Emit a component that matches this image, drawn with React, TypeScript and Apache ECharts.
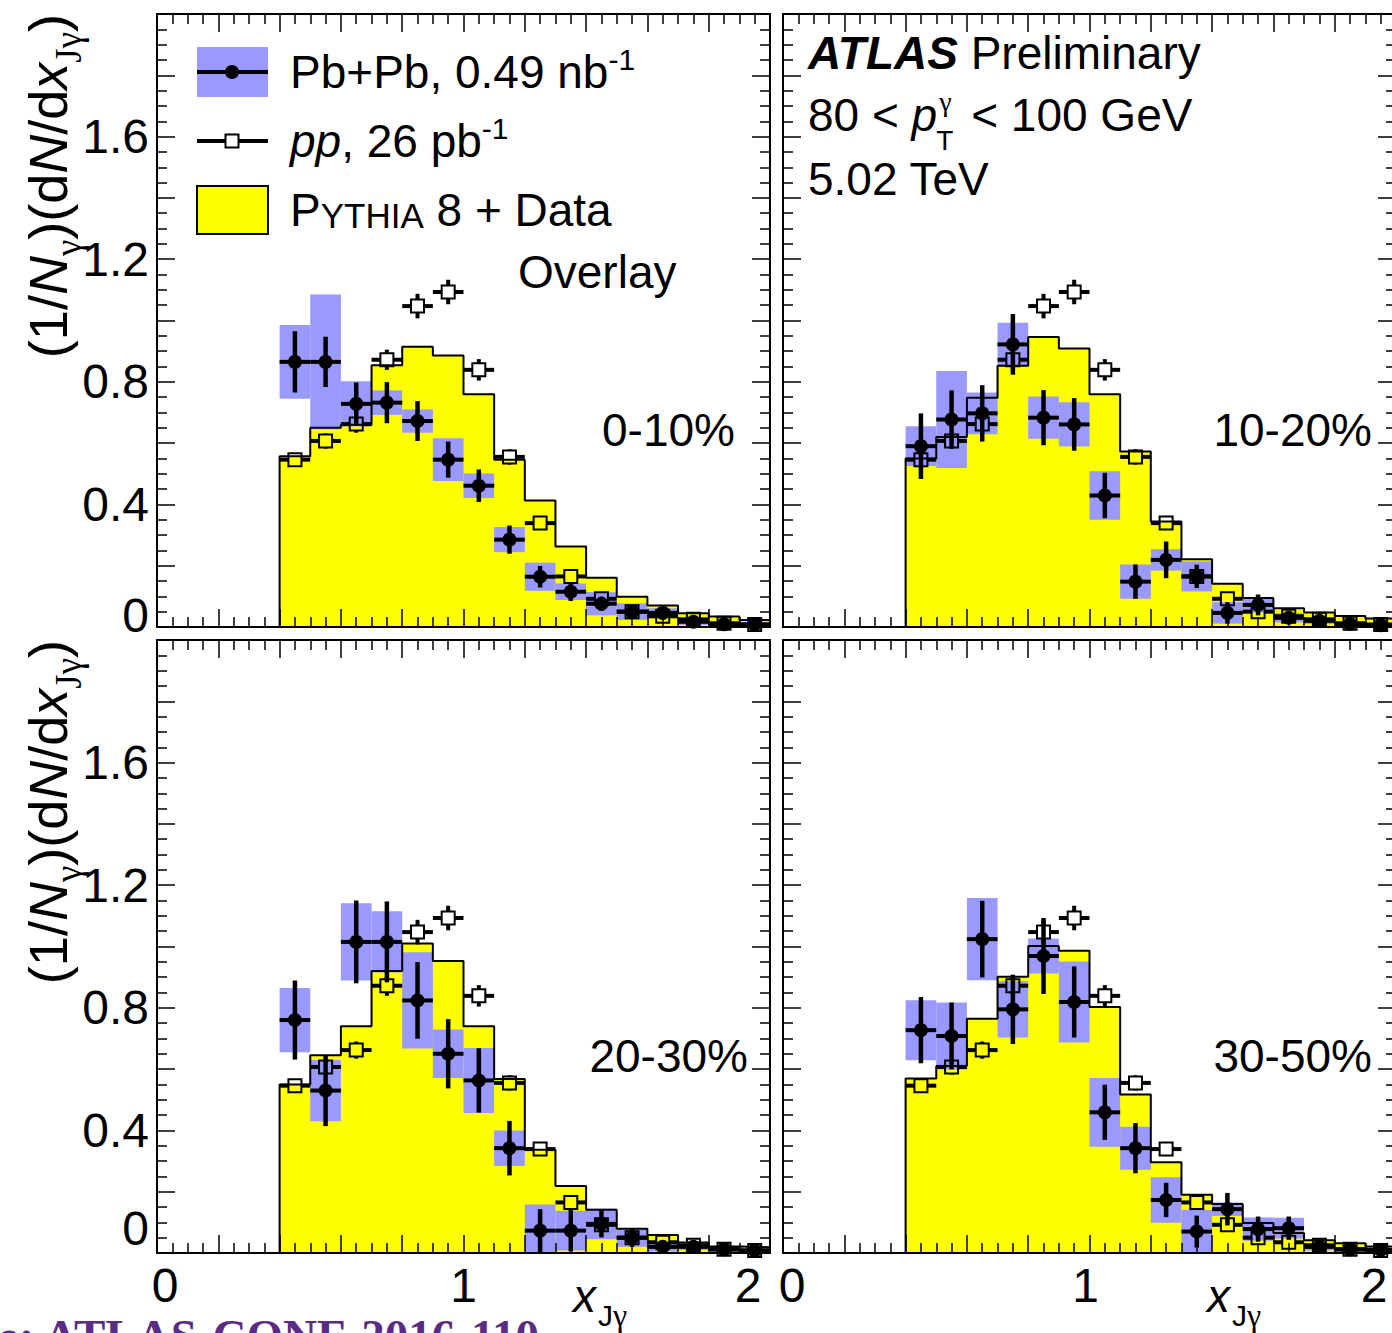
import React, { useEffect, useRef } from 'react';
import * as echarts from 'echarts';

// ---------- data ----------
const binEdges = [0.4, 0.5, 0.6, 0.7, 0.8, 0.9, 1.0, 1.1, 1.2, 1.3, 1.4, 1.5, 1.6, 1.7, 1.8, 1.9, 2.0];
const binCenters = [0.45, 0.55, 0.65, 0.75, 0.85, 0.95, 1.05, 1.15, 1.25, 1.35, 1.45, 1.55, 1.65, 1.75, 1.85, 1.95];

const ppValues = [0.546, 0.607, 0.662, 0.872, 1.047, 1.093, 0.839, 0.555, 0.339, 0.165, 0.092, 0.05, 0.035, 0.025, 0.012, 0.008];
const ppStat = [0.022, 0.025, 0.028, 0.033, 0.04, 0.04, 0.035, 0.025, 0.02, 0.015, 0.012, 0.01, 0.008, 0.007, 0.006, 0.006];

const pythia0_10 = [0.557, 0.65, 0.66, 0.854, 0.914, 0.886, 0.759, 0.546, 0.413, 0.263, 0.161, 0.099, 0.07, 0.045, 0.034, 0.023];
const pythia10_20 = [0.55, 0.62, 0.748, 0.852, 0.946, 0.909, 0.759, 0.573, 0.344, 0.221, 0.141, 0.095, 0.061, 0.047, 0.036, 0.028];
const pythia20_30 = [0.55, 0.645, 0.74, 0.92, 1.01, 0.953, 0.74, 0.568, 0.337, 0.219, 0.141, 0.079, 0.059, 0.034, 0.021, 0.019];
const pythia30_50 = [0.569, 0.61, 0.764, 0.901, 1.002, 0.986, 0.803, 0.517, 0.296, 0.19, 0.16, 0.098, 0.065, 0.042, 0.032, 0.021];

const pbpb0_10 = [0.865, 0.865, 0.728, 0.732, 0.672, 0.546, 0.461, 0.285, 0.164, 0.115, 0.076, 0.05, 0.046, 0.017, 0.009, 0.008];
const pbpbStat0_10 = [0.1, 0.082, 0.07, 0.067, 0.065, 0.059, 0.053, 0.046, 0.035, 0.03, 0.023, 0.015, 0.015, 0.01, 0.01, 0.01];
const pbpbSys0_10 = [0.12, 0.22, 0.074, 0.04, 0.038, 0.07, 0.04, 0.041, 0.046, 0.027, 0.038, 0.027, 0.015, 0.01, 0.008, 0.008];

const pbpb10_20 = [0.59, 0.677, 0.697, 0.922, 0.683, 0.661, 0.429, 0.148, 0.219, 0.165, 0.046, 0.072, 0.03, 0.02, 0.01, 0.006];
const pbpbStat10_20 = [0.107, 0.095, 0.092, 0.099, 0.09, 0.086, 0.074, 0.056, 0.06, 0.038, 0.035, 0.034, 0.02, 0.015, 0.01, 0.01];
const pbpbSys10_20 = [0.065, 0.158, 0.068, 0.071, 0.069, 0.072, 0.079, 0.056, 0.035, 0.049, 0.035, 0.025, 0.015, 0.01, 0.008, 0.008];

const pbpb20_30 = [0.76, 0.53, 1.015, 1.015, 0.824, 0.65, 0.563, 0.342, 0.073, 0.073, 0.095, 0.05, 0.02, 0.02, 0.012, 0.008];
const pbpbStat20_30 = [0.129, 0.116, 0.135, 0.132, 0.125, 0.113, 0.105, 0.089, 0.07, 0.068, 0.044, 0.03, 0.02, 0.015, 0.01, 0.01];
const pbpbSys20_30 = [0.105, 0.1, 0.126, 0.1, 0.157, 0.079, 0.106, 0.058, 0.085, 0.065, 0.05, 0.03, 0.015, 0.01, 0.008, 0.008];

const pbpb30_50 = [0.727, 0.708, 1.024, 0.795, 0.969, 0.819, 0.459, 0.342, 0.173, 0.07, 0.143, 0.078, 0.081, 0.02, 0.012, 0.01];
const pbpbStat30_50 = [0.108, 0.109, 0.125, 0.113, 0.124, 0.116, 0.09, 0.082, 0.056, 0.052, 0.053, 0.041, 0.038, 0.015, 0.01, 0.01];
const pbpbSys30_50 = [0.098, 0.109, 0.134, 0.092, 0.057, 0.132, 0.112, 0.07, 0.074, 0.07, 0.022, 0.038, 0.034, 0.012, 0.008, 0.008];

const centralityLabels = ['0-10%', '10-20%', '20-30%', '30-50%'];
const xTickLabels = ['0', '1', '2'];
const yTickLabels = ['0', '0.4', '0.8', '1.2', '1.6'];

// ---------- style ----------
const FONT = '"Liberation Sans", Arial, Helvetica, sans-serif';
const SERIF = '"Liberation Serif", "Times New Roman", serif';
const YELLOW = '#ffff00';
const BLUE = '#9999ff';

const panels = [
  { label: centralityLabels[0], pythia: pythia0_10, val: pbpb0_10, stat: pbpbStat0_10, sys: pbpbSys0_10 },
  { label: centralityLabels[1], pythia: pythia10_20, val: pbpb10_20, stat: pbpbStat10_20, sys: pbpbSys10_20 },
  { label: centralityLabels[2], pythia: pythia20_30, val: pbpb20_30, stat: pbpbStat20_30, sys: pbpbSys20_30 },
  { label: centralityLabels[3], pythia: pythia30_50, val: pbpb30_50, stat: pbpbStat30_50, sys: pbpbSys30_50 },
];

const grids = [
  { left: 157, top: 14, width: 613, height: 613, outerBoundsMode: 'none', containLabel: false },
  { left: 783, top: 14, width: 613, height: 613, outerBoundsMode: 'none', containLabel: false },
  { left: 157, top: 640, width: 613, height: 613, outerBoundsMode: 'none', containLabel: false },
  { left: 783, top: 640, width: 613, height: 613, outerBoundsMode: 'none', containLabel: false },
];

const labelPos = [
  { x: 735, y: 430 },
  { x: 1372, y: 430 },
  { x: 748, y: 1056 },
  { x: 1372, y: 1056 },
];

function textWidth(text: string, font: string): number {
  const c = document.createElement('canvas').getContext('2d');
  if (!c) return text.length * 25;
  c.font = font;
  return c.measureText(text).width;
}

function stepData(vals: number[]) {
  const pts: number[][] = [[binEdges[0], 0]];
  vals.forEach((v, k) => pts.push([binEdges[k], v]));
  pts.push([binEdges[binEdges.length - 1], vals[vals.length - 1]]);
  return pts;
}

function pointData(vals: number[], errs: number[]) {
  return binCenters.map((c, k) => [c, vals[k], errs[k], binEdges[k], binEdges[k + 1]]);
}

const near = (a: number, b: number) => Math.abs(a - b) < 1e-6;

function buildOption() {
  const axisBase: any = {
    type: 'value',
    min: 0,
    max: 2,
    interval: 0.2,
    z: 10,
    axisLine: { show: true, onZero: false, lineStyle: { color: '#000', width: 2 } },
    axisTick: { show: true, inside: true, length: 18, lineStyle: { color: '#000', width: 1.5 } },
    minorTick: { show: true, splitNumber: 4, length: 10, lineStyle: { color: '#000', width: 1.5 } },
    splitLine: { show: false },
    minorSplitLine: { show: false },
  };

  const xAxes: any[] = [];
  const yAxes: any[] = [];
  const series: any[] = [];

  panels.forEach((p, i) => {
    const isBottom = i >= 2;
    const isLeft = i % 2 === 0;
    xAxes.push({
      ...axisBase,
      gridIndex: i,
      position: 'bottom',
      axisLabel: isBottom
        ? {
            show: true,
            margin: 8,
            color: '#000',
            fontSize: 48,
            fontFamily: FONT,
            lineHeight: 48,
            showMinLabel: true,
            showMaxLabel: true,
            formatter: (v: number) => {
              if (near(v, 0)) return '{l|' + xTickLabels[0] + '}';
              if (near(v, 1)) return '{m|' + xTickLabels[1] + '}';
              if (near(v, 2)) return '{r|' + xTickLabels[2] + '}';
              return '';
            },
            rich: {
              l: { fontSize: 48, fontFamily: FONT, color: '#000', lineHeight: 48, padding: [0, 0, 0, isLeft ? 16 : 18] },
              m: { fontSize: 48, fontFamily: FONT, color: '#000', lineHeight: 48, padding: [0, isLeft ? 0 : 8, 0, 0] },
              r: { fontSize: 48, fontFamily: FONT, color: '#000', lineHeight: 48, padding: [0, 44, 0, 0] },
            },
          }
        : { show: false },
    });
    xAxes.push({ ...axisBase, gridIndex: i, position: 'top', axisLabel: { show: false } });
    yAxes.push({
      ...axisBase,
      gridIndex: i,
      position: 'left',
      axisLabel: isLeft
        ? {
            show: true,
            margin: 8,
            color: '#000',
            fontSize: 48,
            fontFamily: FONT,
            formatter: (v: number) => {
              for (const t of yTickLabels) {
                if (near(v, parseFloat(t))) return t === '0' ? '{z|0}' : t;
              }
              return '';
            },
            rich: {
              z: { fontSize: 48, fontFamily: FONT, color: '#000', lineHeight: 48, padding: [0, 0, isBottom ? 50 : 24, 0] },
            },
          }
        : { show: false },
    });
    yAxes.push({ ...axisBase, gridIndex: i, position: 'right', axisLabel: { show: false } });

    const xi = 2 * i;
    const yi = 2 * i;

    // PYTHIA filled area
    series.push({
      type: 'line',
      xAxisIndex: xi,
      yAxisIndex: yi,
      step: 'end',
      symbol: 'none',
      z: 1,
      silent: true,
      lineStyle: { width: 0, opacity: 0 },
      areaStyle: { color: YELLOW, opacity: 1 },
      data: stepData(p.pythia),
    });
    // Pb+Pb systematic boxes
    series.push({
      type: 'custom',
      xAxisIndex: xi,
      yAxisIndex: yi,
      z: 2,
      silent: true,
      encode: { x: 0, y: 1 },
      data: pointData(p.val, p.sys),
      renderItem: (params: any, api: any) => {
        const v = api.value(1), s = api.value(2), lo = api.value(3), hi = api.value(4);
        const a = api.coord([lo, v + s]);
        const b = api.coord([hi, Math.max(v - s, 0)]);
        return {
          type: 'rect',
          shape: { x: a[0], y: a[1], width: b[0] - a[0], height: b[1] - a[1] },
          style: { fill: BLUE },
        };
      },
    });
    // PYTHIA outline
    series.push({
      type: 'line',
      xAxisIndex: xi,
      yAxisIndex: yi,
      step: 'end',
      symbol: 'none',
      z: 3,
      silent: true,
      lineStyle: { width: 2, color: '#000' },
      data: stepData(p.pythia),
    });
    // pp open squares
    series.push({
      type: 'custom',
      xAxisIndex: xi,
      yAxisIndex: yi,
      z: 4,
      silent: true,
      encode: { x: 0, y: 1 },
      data: pointData(ppValues, ppStat),
      renderItem: (params: any, api: any) => {
        const x = api.value(0), v = api.value(1), e = api.value(2), lo = api.value(3), hi = api.value(4);
        const c = api.coord([x, v]);
        const l = api.coord([lo, v]);
        const h = api.coord([hi, v]);
        const t = api.coord([x, v + e]);
        const b = api.coord([x, Math.max(v - e, 0)]);
        const hs = 6.5;
        const lw = 4;
        const children: any[] = [
          { type: 'line', shape: { x1: l[0], y1: c[1], x2: c[0] - hs, y2: c[1] }, style: { stroke: '#000', lineWidth: lw } },
          { type: 'line', shape: { x1: c[0] + hs, y1: c[1], x2: h[0], y2: c[1] }, style: { stroke: '#000', lineWidth: lw } },
        ];
        if (t[1] < c[1] - hs) children.push({ type: 'line', shape: { x1: c[0], y1: c[1] - hs, x2: c[0], y2: t[1] }, style: { stroke: '#000', lineWidth: lw } });
        if (b[1] > c[1] + hs) children.push({ type: 'line', shape: { x1: c[0], y1: c[1] + hs, x2: c[0], y2: b[1] }, style: { stroke: '#000', lineWidth: lw } });
        children.push({
          type: 'rect',
          shape: { x: c[0] - hs, y: c[1] - hs, width: 2 * hs, height: 2 * hs },
          style: { fill: 'none', stroke: '#000', lineWidth: 2 },
        });
        return { type: 'group', children };
      },
    });
    // Pb+Pb points with stat errors
    series.push({
      type: 'custom',
      xAxisIndex: xi,
      yAxisIndex: yi,
      z: 5,
      silent: true,
      encode: { x: 0, y: 1 },
      data: pointData(p.val, p.stat),
      renderItem: (params: any, api: any) => {
        const x = api.value(0), v = api.value(1), e = api.value(2), lo = api.value(3), hi = api.value(4);
        const c = api.coord([x, v]);
        const l = api.coord([lo, v]);
        const h = api.coord([hi, v]);
        const t = api.coord([x, v + e]);
        const b = api.coord([x, Math.max(v - e, 0)]);
        return {
          type: 'group',
          children: [
            { type: 'line', shape: { x1: l[0], y1: c[1], x2: h[0], y2: c[1] }, style: { stroke: '#000', lineWidth: 4 } },
            { type: 'line', shape: { x1: c[0], y1: t[1], x2: c[0], y2: b[1] }, style: { stroke: '#000', lineWidth: 4.5 } },
            { type: 'circle', shape: { cx: c[0], cy: c[1], r: 7 }, style: { fill: '#000' } },
          ],
        };
      },
    });
  });

  // ---------- annotations ----------
  const base = { fontFamily: FONT, fill: '#000' };
  const n46 = { ...base, fontSize: 46, lineHeight: 56 };
  const sup = { ...base, fontSize: 30, lineHeight: 30, verticalAlign: 'top' };

  const w80 = textWidth('80 < ', `46px ${FONT}`);
  const wp = textWidth('p', `italic 46px ${FONT}`);
  const pStart = 808 + w80;
  const pEnd = pStart + wp;

  const yTitleRich = {
    n: { ...base, fontSize: 54, lineHeight: 78 },
    i: { ...base, fontSize: 54, lineHeight: 78, fontStyle: 'italic' },
    s: { ...base, fontFamily: SERIF, fontSize: 37, lineHeight: 35, verticalAlign: 'bottom' },
  };
  const yTitleText = '{n|(1/}{i|N}{s|γ}{n|)(d}{i|N}{n|/d}{i|x}{s|Jγ}{n|)}';

  const graphic: any[] = [
    // legend: Pb+Pb
    { type: 'rect', z: 100, shape: { x: 197, y: 47, width: 71, height: 50 }, style: { fill: BLUE } },
    { type: 'line', z: 101, shape: { x1: 197, y1: 72, x2: 268, y2: 72 }, style: { stroke: '#000', lineWidth: 4 } },
    { type: 'circle', z: 102, shape: { cx: 232, cy: 72, r: 7 }, style: { fill: '#000' } },
    {
      type: 'text', z: 100, x: 290, y: 72,
      style: { text: '{n|Pb+Pb, 0.49 nb}{s|-1}', align: 'left', verticalAlign: 'middle', rich: { n: n46, s: sup } },
    },
    // legend: pp
    { type: 'line', z: 101, shape: { x1: 197, y1: 141, x2: 225.5, y2: 141 }, style: { stroke: '#000', lineWidth: 4 } },
    { type: 'line', z: 101, shape: { x1: 238.5, y1: 141, x2: 268, y2: 141 }, style: { stroke: '#000', lineWidth: 4 } },
    { type: 'rect', z: 102, shape: { x: 225.5, y: 134.5, width: 13, height: 13 }, style: { fill: '#fff', stroke: '#000', lineWidth: 2 } },
    {
      type: 'text', z: 100, x: 290, y: 141,
      style: {
        text: '{i|pp}{n|, 26 pb}{s|-1}', align: 'left', verticalAlign: 'middle',
        rich: { n: n46, i: { ...n46, fontStyle: 'italic' }, s: sup },
      },
    },
    // legend: PYTHIA
    { type: 'rect', z: 100, shape: { x: 197, y: 186, width: 71, height: 48 }, style: { fill: YELLOW, stroke: '#000', lineWidth: 2 } },
    {
      type: 'text', z: 100, x: 290, y: 210,
      style: {
        text: '{n|P}{c|YTHIA}{n| 8 + Data}', align: 'left', verticalAlign: 'middle',
        rich: {
          n: { ...base, fontSize: 46, lineHeight: 46, verticalAlign: 'bottom' },
          c: { ...base, fontSize: 35, lineHeight: 38, verticalAlign: 'bottom' },
        },
      },
    },
    { type: 'text', z: 100, x: 518, y: 272, style: { ...base, text: 'Overlay', fontSize: 46, align: 'left', verticalAlign: 'middle' } },

    // ATLAS label
    {
      type: 'text', z: 100, x: 808, y: 53,
      style: {
        text: '{b|ATLAS}{n| Preliminary}', align: 'left', verticalAlign: 'middle',
        rich: { b: { ...base, fontSize: 46, fontWeight: 'bold', fontStyle: 'italic' }, n: { ...base, fontSize: 46 } },
      },
    },
    { type: 'text', z: 100, x: 808, y: 115, style: { ...base, text: '80 < ', fontSize: 46, align: 'left', verticalAlign: 'middle' } },
    { type: 'text', z: 100, x: pStart, y: 115, style: { ...base, text: 'p', fontSize: 46, fontStyle: 'italic', align: 'left', verticalAlign: 'middle' } },
    { type: 'text', z: 100, x: pEnd + 2, y: 101, style: { ...base, fontFamily: SERIF, text: 'γ', fontSize: 28, align: 'left', verticalAlign: 'middle' } },
    { type: 'text', z: 100, x: pEnd - 1, y: 140, style: { ...base, text: 'T', fontSize: 28, lineHeight: 26, align: 'left', verticalAlign: 'middle' } },
    { type: 'text', z: 100, x: pEnd + 34, y: 115, style: { ...base, text: '< 100 GeV', fontSize: 46, align: 'left', verticalAlign: 'middle' } },
    { type: 'text', z: 100, x: 808, y: 179, style: { ...base, text: '5.02 TeV', fontSize: 46, lineHeight: 44, align: 'left', verticalAlign: 'middle' } },

    // y titles
    { type: 'text', z: 100, x: 48, y: 14, rotation: Math.PI / 2, style: { text: yTitleText, align: 'right', verticalAlign: 'middle', rich: yTitleRich } },
    { type: 'text', z: 100, x: 48, y: 640, rotation: Math.PI / 2, style: { text: yTitleText, align: 'right', verticalAlign: 'middle', rich: yTitleRich } },

    // x titles
    { type: 'text', z: 100, x: 573, y: 1296, style: { ...base, text: 'x', fontSize: 46, fontStyle: 'italic', align: 'left', verticalAlign: 'middle' } },
    {
      type: 'text', z: 100, x: 598, y: 1315,
      style: { text: '{a|J}{g|γ}', align: 'left', verticalAlign: 'middle', rich: { a: { ...base, fontSize: 30 }, g: { ...base, fontFamily: SERIF, fontSize: 32 } } },
    },
    { type: 'text', z: 100, x: 1207, y: 1296, style: { ...base, text: 'x', fontSize: 46, fontStyle: 'italic', align: 'left', verticalAlign: 'middle' } },
    {
      type: 'text', z: 100, x: 1232, y: 1315,
      style: { text: '{a|J}{g|γ}', align: 'left', verticalAlign: 'middle', rich: { a: { ...base, fontSize: 30 }, g: { ...base, fontFamily: SERIF, fontSize: 32 } } },
    },

    // source note (cut off at the bottom, as in the reference)
    {
      type: 'text', z: 100, x: -2, y: 1336,
      style: { text: 'e: ATLAS-CONF-2016-110', fontFamily: SERIF, fontWeight: 'bold', fontSize: 47, fill: '#5b2c86', align: 'left', verticalAlign: 'middle' },
    },
  ];

  panels.forEach((p, i) => {
    graphic.push({
      type: 'text', z: 100, x: labelPos[i].x, y: labelPos[i].y,
      style: { ...base, text: p.label, fontSize: 46, align: 'right', verticalAlign: 'middle' },
    });
  });

  return {
    animation: false,
    backgroundColor: '#ffffff',
    grid: grids,
    xAxis: xAxes,
    yAxis: yAxes,
    series,
    graphic,
  };
}

export default function App() {
  const ref = useRef<HTMLDivElement>(null);
  useEffect(() => {
    if (!ref.current) return;
    const chart = echarts.init(ref.current, null, { renderer: 'svg' });
    chart.setOption(buildOption() as any);
    return () => {
      chart.dispose();
    };
  }, []);
  return (
    <div
      ref={ref}
      style={{ position: 'absolute', left: 0, top: 0, width: 1392, height: 1333, background: '#fff', overflow: 'hidden' }}
    />
  );
}
